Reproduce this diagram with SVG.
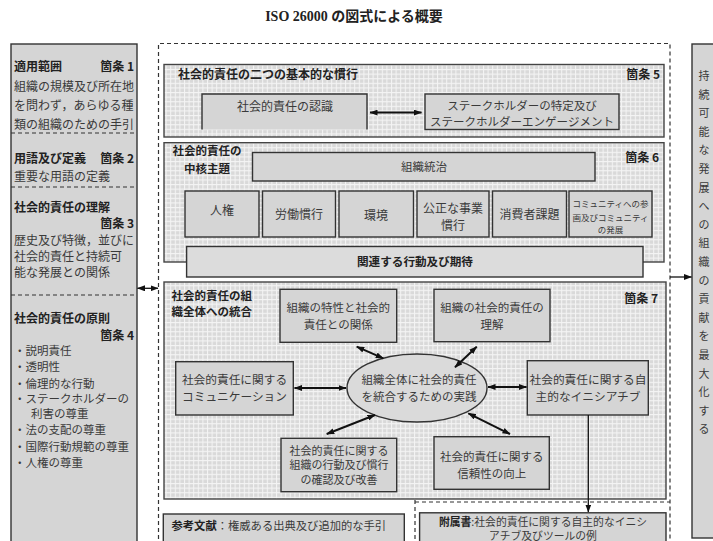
<svg xmlns="http://www.w3.org/2000/svg" width="713" height="541" viewBox="0 0 713 541">
<style>
.box{fill:#d5d5d5;stroke:#333;stroke-width:1.4}
.sec{fill:url(#grid);stroke:#444;stroke-width:1.4}
.dash{fill:none;stroke:#333;stroke-width:1.2;stroke-dasharray:4 3}
.h{font-family:"Noto Sans CJK JP","Noto Sans CJK SC",sans-serif;font-weight:700;fill:#222}
.t{font-family:"Noto Sans CJK JP","Noto Sans CJK SC",sans-serif;fill:#3a3a3a}
.c{text-anchor:middle}
.e{text-anchor:end}
.arr{stroke:#111;stroke-width:2;fill:none;marker-start:url(#ah);marker-end:url(#ah)}
.arr1{stroke:#111;stroke-width:1.3;fill:none;marker-end:url(#ah)}
.arr2{stroke:#111;stroke-width:1.3;fill:none;marker-start:url(#ah);marker-end:url(#ah)}
</style>
<defs>
<pattern id="grid" width="4.6" height="4.6" patternUnits="userSpaceOnUse">
<rect width="4.6" height="4.6" fill="#d9d9d9"/>
<path d="M0 0.5H4.6M0.5 0V4.6" stroke="#f4f4f4" stroke-width="1.1"/>
</pattern>
<marker id="ah" viewBox="0 0 8 6" refX="7.5" refY="3" markerWidth="8" markerHeight="6" markerUnits="userSpaceOnUse" orient="auto-start-reverse">
<path d="M0 0L8 3L0 6z" fill="#111"/>
</marker>
</defs>
<rect width="713" height="541" fill="#fff"/>

<text x="354" y="21" font-family="'Liberation Serif','Noto Sans CJK JP',serif" font-weight="700" font-size="14" text-anchor="middle" fill="#222">ISO 26000 の図式による概要</text>

<!-- left panel -->
<g id="left-panel">
<rect class="box" x="11" y="44" width="126" height="520"/>
<path class="dash" d="M11 133H137M11 187H137M11 295H137"/>
</g>
<g id="clause1">
<text class="h" x="14" y="71" font-size="12">適用範囲</text>
<text class="h e" x="134" y="71" font-size="12">箇条 1</text>
<text class="t" font-size="12"><tspan x="14" y="90.5">組織の規模及び所在地</tspan><tspan x="14" y="109.5">を問わず，あらゆる種</tspan><tspan x="14" y="128.5">類の組織のための手引</tspan></text>
</g>
<g id="clause2">
<text class="h" x="14" y="162.5" font-size="12">用語及び定義</text>
<text class="h e" x="134" y="162.5" font-size="12">箇条 2</text>
<text class="t" x="14" y="181" font-size="12">重要な用語の定義</text>
</g>
<g id="clause3">
<text class="h" x="14" y="212" font-size="12">社会的責任の理解</text>
<text class="h e" x="134" y="228" font-size="12">箇条 3</text>
<text class="t" font-size="12"><tspan x="14" y="245">歴史及び特徴，並びに</tspan><tspan x="14" y="261">社会的責任と持続可</tspan><tspan x="14" y="277">能な発展との関係</tspan></text>
</g>
<g id="clause4">
<text class="h" x="14" y="322.5" font-size="12">社会的責任の原則</text>
<text class="h e" x="134" y="339.5" font-size="12">箇条 4</text>
<text class="t" font-size="11.5"><tspan x="14" y="354.5">・説明責任</tspan><tspan x="14" y="371">・透明性</tspan><tspan x="14" y="387.5">・倫理的な行動</tspan><tspan x="14" y="402.5">・ステークホルダーの</tspan><tspan x="31" y="417.5">利害の尊重</tspan><tspan x="14" y="434">・法の支配の尊重</tspan><tspan x="14" y="450.5">・国際行動規範の尊重</tspan><tspan x="14" y="467">・人権の尊重</tspan></text>
</g>

<!-- right panel -->
<g id="right-panel">
<rect class="box" x="692" y="44" width="40" height="494"/>
<text class="t c" font-size="11"><tspan x="704" y="80">持</tspan><tspan x="704" dy="18.6">続</tspan><tspan x="704" dy="18.6">可</tspan><tspan x="704" dy="18.6">能</tspan><tspan x="704" dy="18.6">な</tspan><tspan x="704" dy="18.6">発</tspan><tspan x="704" dy="18.6">展</tspan><tspan x="704" dy="18.6">へ</tspan><tspan x="704" dy="18.6">の</tspan><tspan x="704" dy="18.6">組</tspan><tspan x="704" dy="18.6">織</tspan><tspan x="704" dy="18.6">の</tspan><tspan x="704" dy="18.6">貢</tspan><tspan x="704" dy="18.6">献</tspan><tspan x="704" dy="18.6">を</tspan><tspan x="704" dy="18.6">最</tspan><tspan x="704" dy="18.6">大</tspan><tspan x="704" dy="18.6">化</tspan><tspan x="704" dy="18.6">す</tspan><tspan x="704" dy="18.6">る</tspan></text>
</g>

<!-- middle dashed container -->
<g id="middle-frame">
<path class="dash" d="M158.5 560V43.5H670V560"/>
<path class="dash" d="M415 500V560M415 502H670"/>
</g>

<!-- clause 5 -->
<g id="clause5">
<rect class="sec" x="164" y="64.5" width="500" height="72.5"/>
<text class="h" x="178" y="78.5" font-size="12">社会的責任の二つの基本的な慣行</text>
<text class="h e" x="660" y="78.5" font-size="12">箇条 5</text>
</g>
<g id="recognition">
<rect x="202" y="94" width="165" height="35.5" fill="#d5d5d5"/>
<path d="M202 129.5V94H367V129.5" fill="none" stroke="#333" stroke-width="1.4"/>
<text class="t c" x="285" y="111" font-size="12">社会的責任の認識</text>
</g>
<g id="stakeholder">
<rect class="box" x="425" y="94" width="194" height="35.5"/>
<text class="t c" font-size="11.5"><tspan x="522" y="110">ステークホルダーの特定及び</tspan><tspan x="522" y="125.5">ステークホルダーエンゲージメント</tspan></text>
</g>

<!-- clause 6 -->
<g id="clause6">
<rect class="sec" x="164" y="142.7" width="500" height="119.3"/>
<text class="h c" font-size="11.5"><tspan x="207" y="155">社会的責任の</tspan><tspan x="207" y="173">中核主題</tspan></text>
<text class="h e" x="659" y="162" font-size="12">箇条 6</text>
</g>
<g id="governance">
<rect class="box" x="252.5" y="152.5" width="342.5" height="28.5"/>
<text class="t c" x="424" y="171" font-size="11.5">組織統治</text>
</g>
<g id="human-rights">
<rect class="box" x="185" y="191" width="74" height="46"/>
<text class="t c" x="222" y="214.5" font-size="12">人権</text>
</g>
<g id="labour">
<rect class="box" x="262.5" y="191" width="73" height="46"/>
<text class="t c" x="299" y="218.5" font-size="12">労働慣行</text>
</g>
<g id="environment">
<rect class="box" x="339" y="191" width="74.5" height="46"/>
<text class="t c" x="376" y="220" font-size="12">環境</text>
</g>
<g id="fair-practices">
<rect class="box" x="417" y="191" width="72" height="46"/>
<text class="t c" font-size="12"><tspan x="453" y="212.5">公正な事業</tspan><tspan x="453" y="230">慣行</tspan></text>
</g>
<g id="consumer">
<rect class="box" x="492.5" y="191" width="74" height="46"/>
<text class="t c" x="529.5" y="218.5" font-size="12">消費者課題</text>
</g>
<g id="community">
<rect class="box" x="569" y="191" width="83" height="46"/>
<text class="t c" font-size="8.5"><tspan x="610.5" y="206.5">コミュニティへの参</tspan><tspan x="610.5" y="220.5">画及びコミュニティ</tspan><tspan x="610.5" y="233">の発展</tspan></text>
</g>
<g id="related-actions">
<rect class="box" x="186.6" y="246.5" width="456.4" height="30.5" style="fill:#dcdcdc"/>
<text class="h c" x="415" y="266" font-size="11.6">関連する行動及び期待</text>
</g>

<!-- clause 7 -->
<g id="clause7">
<rect class="sec" x="164" y="282" width="502" height="217"/>
<text class="h" font-size="11.5"><tspan x="171.5" y="299.5">社会的責任の組</tspan><tspan x="171.5" y="315.5">織全体への統合</tspan></text>
<text class="h e" x="658" y="302.5" font-size="12">箇条 7</text>
</g>
<g id="characteristics">
<rect class="box" x="280" y="289.3" width="116.7" height="53"/>
<text class="t c" font-size="11.5"><tspan x="338.3" y="312">組織の特性と社会的</tspan><tspan x="338.3" y="328.5">責任との関係</tspan></text>
</g>
<g id="understanding">
<rect class="box" x="434" y="289.3" width="116" height="52.4"/>
<text class="t c" font-size="11.5"><tspan x="492" y="312">組織の社会的責任の</tspan><tspan x="492" y="328.5">理解</tspan></text>
</g>
<g id="communication">
<rect class="box" x="175.7" y="361.7" width="117.6" height="53.3"/>
<text class="t c" font-size="11.7"><tspan x="234.5" y="384.2">社会的責任に関する</tspan><tspan x="234.5" y="400.8">コミュニケーション</tspan></text>
</g>
<g id="integration-practice">
<ellipse cx="417" cy="388" rx="70" ry="34" fill="#dadada" stroke="#333" stroke-width="1.4"/>
<text class="t c" font-size="11.5"><tspan x="419" y="384">組織全体に社会的責任</tspan><tspan x="419" y="400.5">を統合するための実践</tspan></text>
</g>
<g id="voluntary-initiatives">
<rect class="box" x="527.3" y="360.7" width="121" height="54.3"/>
<text class="t c" font-size="11.7"><tspan x="588" y="384.2">社会的責任に関する自</tspan><tspan x="588" y="400.8">主的なイニシアチブ</tspan></text>
</g>
<g id="review-improve">
<rect class="box" x="281" y="438.3" width="115.7" height="53.4"/>
<text class="t c" font-size="11"><tspan x="339" y="454.5">社会的責任に関する</tspan><tspan x="339" y="469">組織の行動及び慣行</tspan><tspan x="339" y="483.5">の確認及び改善</tspan></text>
</g>
<g id="credibility">
<rect class="box" x="434" y="436.7" width="115.3" height="52.6"/>
<text class="t c" font-size="11.5"><tspan x="491.7" y="461">社会的責任に関する</tspan><tspan x="491.7" y="477.5">信頼性の向上</tspan></text>
</g>

<!-- bottom -->
<g id="bibliography">
<rect class="box" x="163.3" y="514" width="241" height="40"/>
<text class="t" x="171.5" y="530" font-size="11.3"><tspan class="h">参考文献</tspan>：権威ある出典及び追加的な手引</text>
</g>
<g id="annex">
<rect class="box" x="419.6" y="512.8" width="246.4" height="40"/>
<text class="t c" font-size="10.8"><tspan x="543" y="526"><tspan class="h">附属書</tspan>:社会的責任に関する自主的なイニシ</tspan><tspan x="543" y="539.5">アチブ及びツールの例</tspan></text>
</g>

<g id="connectors">
<line class="arr2" x1="137.5" y1="288.3" x2="158" y2="288.3"/>
<line class="arr1" x1="670" y1="277" x2="691.5" y2="277"/>
<line class="arr" x1="370" y1="112.6" x2="421.5" y2="112.6"/>
<line class="arr" x1="356.7" y1="346.7" x2="383.3" y2="358.3"/>
<line class="arr" x1="455" y1="367.3" x2="476.7" y2="346.7"/>
<line class="arr" x1="294.5" y1="388" x2="346" y2="388"/>
<line class="arr" x1="488" y1="387" x2="526.5" y2="387"/>
<line class="arr" x1="326.7" y1="434" x2="375" y2="415"/>
<line class="arr" x1="468.3" y1="413.3" x2="510" y2="434"/>
<line class="arr1" x1="588.3" y1="415" x2="588.3" y2="512"/>
</g>
</svg>
